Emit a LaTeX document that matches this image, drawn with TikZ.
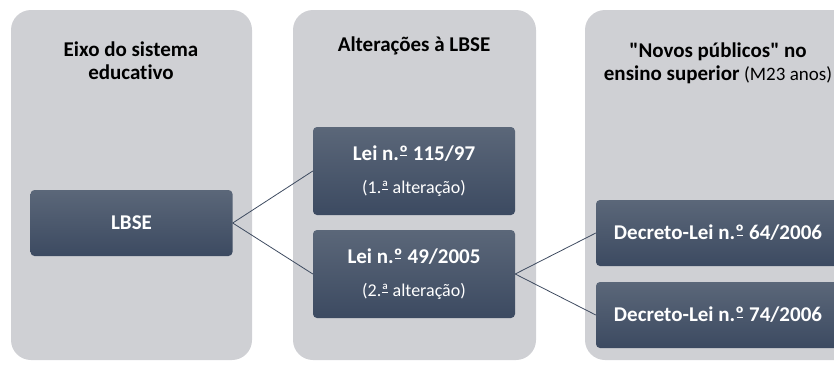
\documentclass[tikz,border=0pt]{standalone}
\usepackage{fontspec}
\defaultfontfeatures[\rmfamily]{}
\setmainfont{Carlito}[Ligatures=NoCommon]
\definecolor{colbg}{HTML}{CFD0D4}
\definecolor{boxtop}{HTML}{5B6779}
\definecolor{boxbot}{HTML}{3C4A61}
\definecolor{linkcol}{HTML}{3E4B60}
% ordinal sign with its bar, as in the reference
\newcommand\ordbar[1]{\ooalign{#1\cr\hidewidth\rule[0.19em]{0.3em}{0.06em}\hidewidth}}
\begin{document}
\begin{tikzpicture}[x=1pt,y=-1pt,
  lawbox/.style={rectangle,rounded corners=4pt,top color=boxtop,bottom color=boxbot,
    text=white,align=center,minimum width=202pt,font=\fontsize{21}{33}\selectfont\bfseries},
  title/.style={align=center,font=\fontsize{21}{23}\selectfont\bfseries},
  link/.style={draw=linkcol,line width=0.8pt}]
  \useasboundingbox (0,0) rectangle (834,367);
  \clip (0,0) rectangle (834,367);
  % columns
  \fill[colbg,rounded corners=20pt] (11,10) rectangle (252,360);
  \fill[colbg,rounded corners=20pt] (293,10) rectangle (536,360);
  \fill[colbg,rounded corners=20pt] (585,10) rectangle (870,360);
  % column titles
  \node[title] (t1) at (131,61) {Eixo do sistema\\educativo};
  \node[title] (t2) at (414,46) {Alterações à LBSE};
  \node[title] (t3) at (718,63) {"Novos públicos" no\\ensino superior {\mdseries\fontsize{19}{23}\selectfont(M23 anos)}};
  % laws
  \node[lawbox,minimum height=66pt] (lbse) at (131.5,223) {LBSE};
  \node[lawbox,minimum height=88pt] (leiA) at (414,171) {Lei n.\ordbar{º} 115/97\\{\fontsize{18}{33}\selectfont\mdseries(1.\ordbar{ª} alteração)}};
  \node[lawbox,minimum height=88pt] (leiB) at (414,274) {Lei n.\ordbar{º} 49/2005\\{\fontsize{18}{33}\selectfont\mdseries(2.\ordbar{ª} alteração)}};
  \node[lawbox,minimum width=244pt,minimum height=66pt] (dlA) at (718,233) {Decreto-Lei n.\ordbar{º} 64/2006};
  \node[lawbox,minimum width=244pt,minimum height=66pt] (dlB) at (718,315) {Decreto-Lei n.\ordbar{º} 74/2006};
  % links
  \draw[link] (lbse.east) -- (leiA.west);
  \draw[link] (lbse.east) -- (leiB.west);
  \draw[link] (leiB.east) -- (dlA.west);
  \draw[link] (leiB.east) -- (dlB.west);
\end{tikzpicture}
\end{document}
